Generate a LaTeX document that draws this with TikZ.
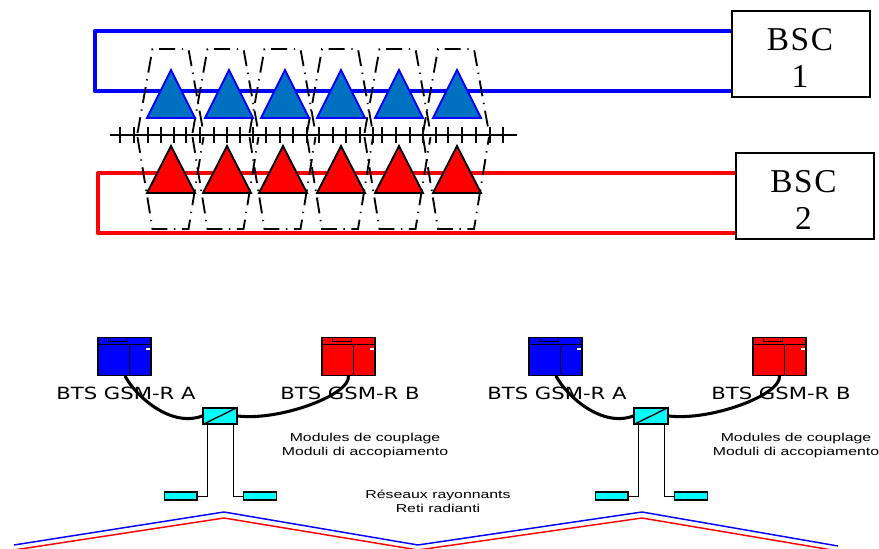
\documentclass[tikz,border=0pt]{standalone}
\usepackage{fontspec}
\setmainfont{Liberation Serif}
\newfontfamily\btsfont{DejaVu Sans}
\newfontfamily\notefont{Liberation Sans}
\usetikzlibrary{calc}
\definecolor{triblue}{HTML}{0070C0}
\definecolor{cyanbox}{HTML}{00FFFF}
\tikzset{
  bscbox/.style={draw=black,fill=white,line width=1.1pt,minimum width=103.5pt,minimum height=64.5pt,inner sep=0pt},
  bsctext/.style={inner sep=0pt,align=center,font=\fontsize{25}{27.7}\selectfont},
  bluebus/.style={draw=blue,line width=3pt,line join=round},
  redbus/.style={draw=red,line width=3pt,line join=round},
  hexline/.style={draw=black,line width=1.4pt,dash pattern=on 12pt off 5pt on 1pt off 5pt},
  bluetri/.style={draw=blue,fill=triblue,line width=1.4pt,line join=miter},
  redtri/.style={draw=black,fill=red,line width=1.4pt,line join=miter},
  hashline/.style={draw=black,line width=1.2pt},
  btsbox/.style={draw=black,line width=1.1pt,minimum width=39.75pt,minimum height=28.5pt,inner sep=0pt},
  btsdetail/.style={draw=black,line width=0.7pt},
  coupler/.style={draw=black,fill=cyanbox,line width=1.1pt,minimum width=25.5pt,minimum height=12pt,inner sep=0pt},
  radiator/.style={draw=black,fill=cyanbox,line width=1pt,minimum width=24.5pt,minimum height=6.2pt,inner sep=0pt},
  feeder/.style={draw=black,line width=2.3pt,line cap=round},
  thinlink/.style={draw=black,line width=0.6pt},
  btslabel/.style={font=\btsfont\fontsize{12.6}{15}\selectfont,inner sep=0pt},
  notelabel/.style={font=\notefont\fontsize{8.6}{10.5}\selectfont,inner sep=0pt,align=center},
}
\newcommand{\widetxt}[1]{\scalebox{1.38}[1]{#1}}
\newcommand{\widebts}[1]{\scalebox{1.26}[1]{#1}}
\begin{document}
\begin{tikzpicture}[x=0.75pt,y=-0.75pt]
\useasboundingbox (0,0) rectangle (879,549);
\clip (0,0) rectangle (879,549);
% BSC boxes and buses
\node[bscbox] (bsc1) at (801,54) {};
\node[bscbox] (bsc2) at (805,196) {};
\node[bsctext] (bsc1t) at (800,58) {\addfontfeature{LetterSpace=5}BSC\\1};
\node[bsctext] (bsc2t) at (803.5,200) {\addfontfeature{LetterSpace=5}BSC\\2};
\coordinate (bt) at (bsc1.west |- 0,31);
\coordinate (bb) at (bsc1.west |- 0,91);
\coordinate (rt) at (bsc2.west |- 0,173);
\coordinate (rb) at (bsc2.west |- 0,233);
\coordinate (bl) at (94.5,0);
\coordinate (rl) at (98,0);
\draw[bluebus] (bt) -- (bl |- bt) -- (bl |- bb) -- (bb);
\draw[redbus] (rt) -- (rl |- rt) -- (rl |- rb) -- (rb);
% hash line
\coordinate (hs) at (110,135);
\coordinate (he) at (517,135);
\draw[hashline] (hs) -- (he);
\foreach \x in {120,134,148,161,174,186,200,214,227,240,253,266,280,293,307,319,333,346,360,373,382,396,410,423,436,448,462,476,490,503}
  \draw[hashline] (\x,127) -- (\x,143);
% dashed cell outlines
\foreach \c in {170.5,225.5,282.5,340,397.5,456} {
  \draw[hexline] (\c-33,133) -- (\c-18,49) -- (\c+18,49) -- (\c+33,133);
  \draw[hexline] (\c-33,137) -- (\c-18,229) -- (\c+18,229) -- (\c+33,137);
}
% antennas
\foreach \a in {171,229,285,341,399,457}
  \draw[bluetri] (\a,70) -- (\a+24,118) -- (\a-24,118) -- cycle;
\foreach \a in {171,227,283,341,399,457}
  \draw[redtri] (\a,146) -- (\a+24,193) -- (\a-24,193) -- cycle;
% radiating cable
\coordinate (w1) at (14,545);\coordinate (w2) at (224,512);\coordinate (w3) at (418,545);\coordinate (w4) at (642,512);\coordinate (w5) at (838,546);
\draw[blue,line width=1.1pt] (w1) -- (w2) -- (w3) -- (w4) -- (w5);
\draw[red,line width=1.1pt] ($(w1)+(0,5)$) -- ($(w2)+(0,6)$) -- ($(w3)+(0,5)$) -- ($(w4)+(0,6)$) -- ($(w5)+(0,5)$);
% BTS units
\foreach \o/\n in {0/l,431/r} {
  \begin{scope}[xshift=\o*0.75pt]
    \node[btsbox,fill=blue] (a\n) at (124.5,356.5) {};
    \node[btsbox,fill=red] (b\n) at (348.5,356.5) {};
    \foreach \u in {a\n,b\n} {
      \draw[btsdetail] ([yshift=-6pt]\u.north west) -- ([yshift=-6pt]\u.north east);
      \draw[btsdetail] ([xshift=3.4pt,yshift=-6pt]\u.north) -- ([xshift=3.4pt]\u.south);
      \draw[btsdetail] ([xshift=-12.4pt]\u.north) -- ([xshift=-12.4pt,yshift=-3.4pt]\u.north) -- ([xshift=1.9pt,yshift=-3.4pt]\u.north) -- ([xshift=1.9pt]\u.north);
      \fill[white] ([xshift=-4.5pt,yshift=-8.2pt]\u.north east) rectangle ([xshift=-1.5pt,yshift=-10pt]\u.north east);
    }
    \node[btslabel] (la\n) at (126,393) {\widebts{BTS GSM-R A}};
    \node[btslabel] (lb\n) at (350,393) {\widebts{BTS GSM-R B}};
    \node[coupler] (c\n) at (220,416) {};
    \draw[btsdetail,line width=1pt] (c\n.south west) -- (c\n.north east);
    \node[radiator] (ra\n) at (180.7,496) {};
    \node[radiator] (rb\n) at (260,496) {};
    \draw[thinlink] ([xshift=-9.7pt]c\n.south) |- (ra\n.east);
    \draw[thinlink] ([xshift=9.7pt]c\n.south) |- (rb\n.west);
    \draw[feeder] ([xshift=0.5pt]a\n.south) .. controls (135,395) and (170,428) .. (c\n.west);
    \draw[feeder] (b\n.south) .. controls (350,395) and (280,421) .. (c\n.east);
    \node[notelabel] (m\n) at (365,445.5) {\widetxt{Modules de couplage}\\\widetxt{Moduli di accopiamento}};
  \end{scope}
}
\node[notelabel] (res) at (438,501) {\widetxt{Réseaux rayonnants}\\\widetxt{Reti radianti}};
\end{tikzpicture}
\end{document}
